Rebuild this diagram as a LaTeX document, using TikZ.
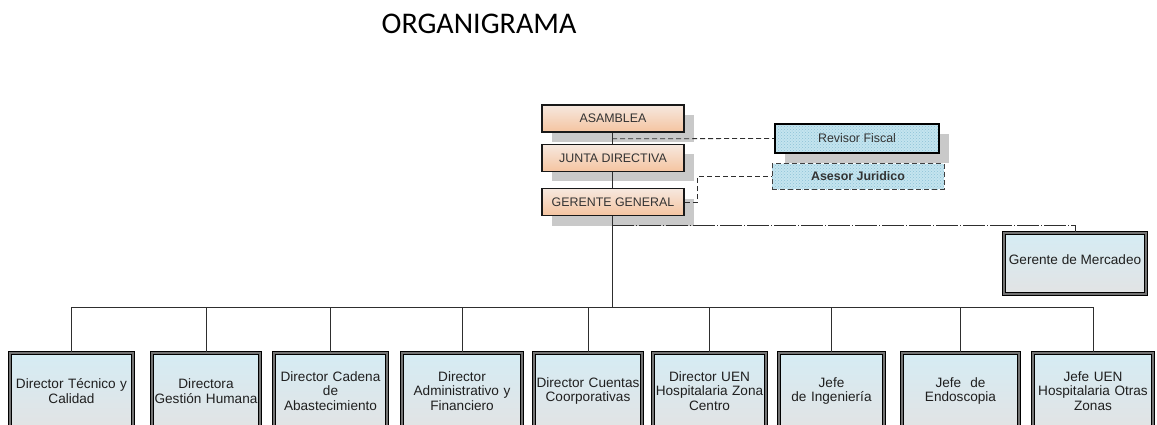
\documentclass[tikz,border=0pt]{standalone}
\usepackage{fontspec}
\setmainfont{Liberation Sans}
\newfontfamily\titlefont{Carlito}
\usetikzlibrary{shadows,patterns}
\definecolor{peachtop}{HTML}{F6E8DF}
\definecolor{peachbot}{HTML}{F5C4A0}
\definecolor{leaftop}{HTML}{D5ECF4}
\definecolor{leafbot}{HTML}{E2E3E4}
\definecolor{advfill}{HTML}{C4E4EF}
\definecolor{advdots}{HTML}{8CC2D6}
\definecolor{shadowgray}{HTML}{C9C9C9}
\definecolor{linegray}{HTML}{2E2E2E}
\definecolor{txtgray}{HTML}{333333}
\tikzset{
  wire/.style={draw=linegray, line width=0.8pt},
  offshadow/.style={general shadow={fill=shadowgray, shadow xshift=10pt, shadow yshift=-10pt}},
  topbox/.style={offshadow, draw=black!90, line width=1.6pt, top color=peachtop, bottom color=peachbot,
    minimum width=142pt, minimum height=27pt, inner sep=0pt, text=txtgray,
    font=\fontsize{12.4}{14}\selectfont},
  advbox/.style={preaction={fill=advfill}, pattern=crosshatch dots, pattern color=advdots,
    inner sep=0pt, text=txtgray, font=\fontsize{12.4}{14}\selectfont},
  dblframe/.style={draw=black, line width=1.1pt, double=black!55, double distance=1.3pt,
    top color=leaftop, bottom color=leafbot, text=black!88,
    font=\fontsize{13.6}{14.6}\selectfont},
  leaf/.style={dblframe, text width=#1, inner xsep=0pt, minimum height=76pt, align=center},
  dashline/.style={wire, dash pattern=on 5pt off 3pt},
  dashdotline/.style={wire, dash pattern=on 22pt off 2pt on 1pt off 2pt}
}
\begin{document}
\begin{tikzpicture}[x=1pt, y=-1pt]
\clip (0,0) rectangle (1157,425);
\fill[white] (0,0) rectangle (1157,425);

% title
\node[anchor=base, font=\titlefont\fontsize{30}{32}\selectfont] (title) at (479,34) {ORGANIGRAMA};

% advisory boxes
\node[offshadow, advbox, draw=black, line width=1.6pt, minimum width=164pt, minimum height=29pt]
  (rf) at (857,138.5) {Revisor Fiscal};
\node[advbox, draw=black!75, line width=1pt, dash pattern=on 5pt off 3pt,
  minimum width=172pt, minimum height=25pt,
  font=\bfseries\fontsize{12.4}{14}\selectfont] (aj) at (858,176.5) {Asesor Juridico};

% governing chain
\node[topbox] (asam) at (613,118.5) {ASAMBLEA};
\node[topbox] (junta) at (613,158) {JUNTA DIRECTIVA};
\node[topbox] (gg) at (613,202) {GERENTE GENERAL};

% marketing manager
\node[dblframe, minimum width=142pt, minimum height=61pt, inner sep=0pt]
  (gm) at (1075,263.5) {\raisebox{7pt}{Gerente de Mercadeo}};

% directors
\node[leaf=123pt] (d1) at (71.5,391) {Director Técnico y\\Calidad};
\node[leaf=108pt] (d2) at (206,391) {Directora\\Gestión Humana};
\node[leaf=113pt] (d3) at (330.5,391) {Director Cadena\\de\\Abastecimiento};
\node[leaf=120pt] (d4) at (462,391) {Director\\Administrativo y\\Financiero};
\node[leaf=108pt] (d5) at (588,391) {Director Cuentas\\Coorporativas};
\node[leaf=113pt] (d6) at (709.5,391) {Director UEN\\Hospitalaria Zona\\Centro};
\node[leaf=105pt] (d7) at (831.5,391) {Jefe\\de Ingeniería};
\node[leaf=117pt] (d8) at (960.5,391) {Jefe~ de\\Endoscopia};
\node[leaf=120pt] (d9) at (1093,391) {Jefe UEN\\Hospitalaria Otras\\Zonas};

% connectors
\coordinate (bus) at (612,307);
\draw[wire] (asam.south -| 612,0) -- (junta.north -| 612,0);
\draw[wire] (junta.south -| 612,0) -- (gg.north -| 612,0);
\draw[wire] (gg.south -| 612,0) -- (bus);
\draw[wire] (d1.north |- bus) -- (d9.north |- bus);
\foreach \d in {d1,d2,d3,d4,d5,d6,d7,d8,d9}
  \draw[wire] (\d.north |- bus) -- (\d.north);
\draw[dashdotline] (gg.south -| 612,0) ++(0,9) -| (gm.north);
\draw[dashline] (asam.south -| 612,0) ++(0,6) -- (rf.west);
\draw[dashline] (gg.east) -- ++(13,0) |- (aj.west);
\end{tikzpicture}
\end{document}
